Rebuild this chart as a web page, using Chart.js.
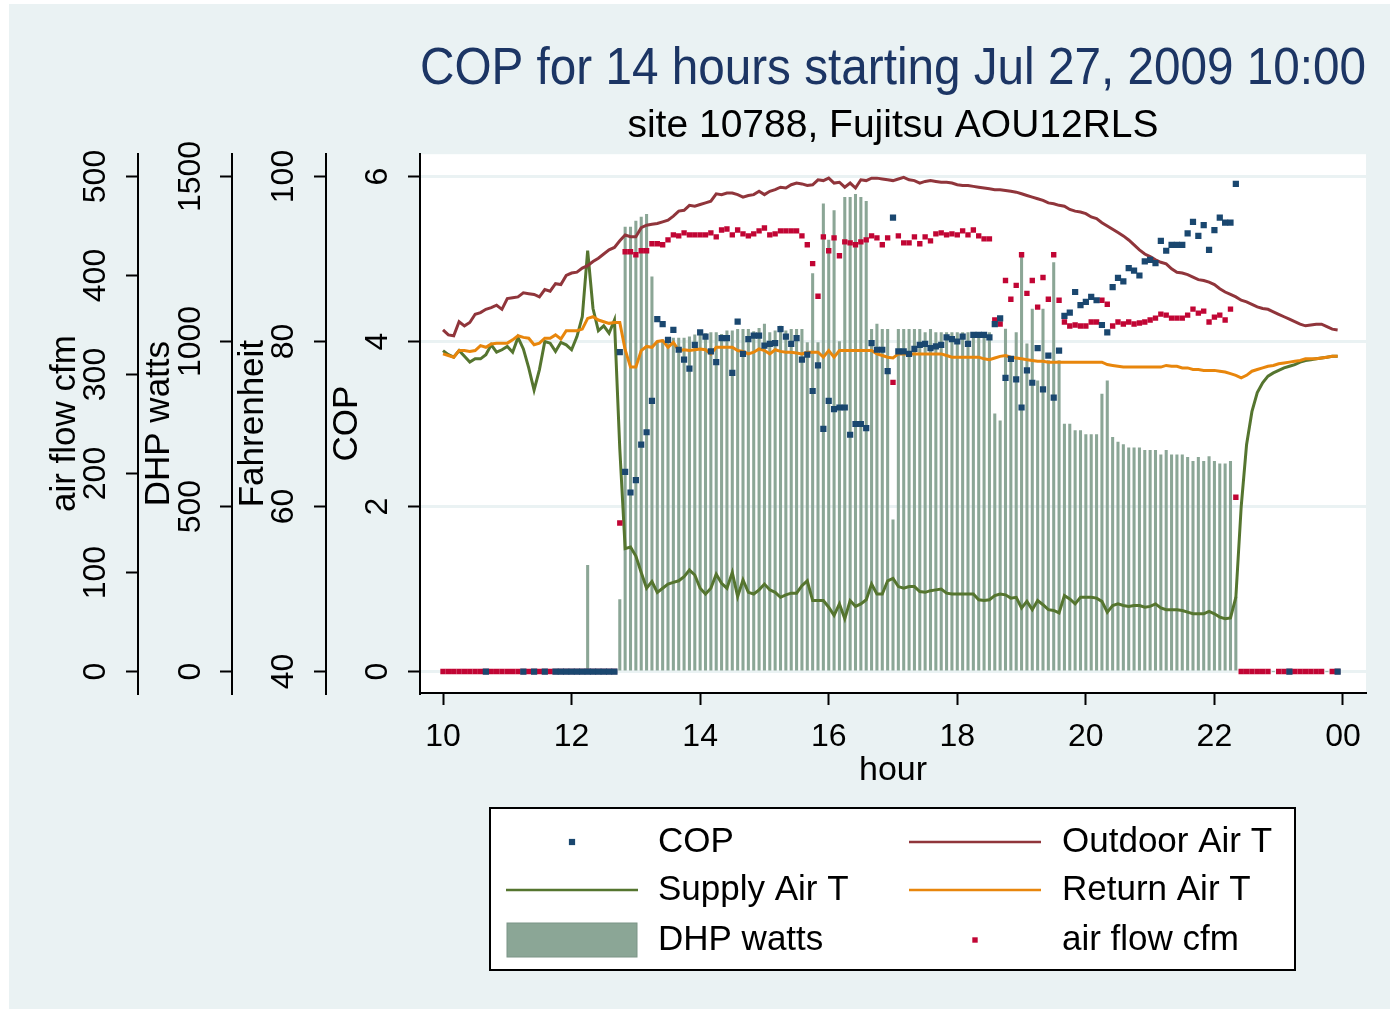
<!DOCTYPE html>
<html>
<head>
<meta charset="utf-8">
<title>COP for 14 hours</title>
<script src="https://cdn.jsdelivr.net/npm/chart.js@4.4.0/dist/chart.umd.min.js"></script>
<style>
  html, body { margin: 0; padding: 0; background: #ffffff; }
</style>
</head>
<body>
<canvas id="copChart" width="1395" height="1014"></canvas>
<script>
// 5-minute samples, 10:00 .. 23:55 (12 values per row = one hour)
const startHour = 10;
const stepMin = 5;

const dhpWatts = [
  0,0,0,0,0,0,0,0,0,0,0,0,
  0,0,0,0,0,0,0,0,0,0,0,0,
  0,0,0,322,0,0,0,0,0,218,1347,1347,
  1365,1377,1385,1196,1000,1005,1005,1010,1010,1010,1014,1020,
  1024,1024,1027,1027,1022,1032,1032,1037,1037,1037,1030,1040,
  1053,1027,1032,1047,1032,1037,1037,1037,997,1206,997,1417,
  1307,1397,1000,1437,1437,1446,1437,1425,1037,1053,1037,1037,
  460,1037,1037,1037,1037,1037,1027,1037,1027,1027,1027,1027,
  1027,1027,1027,1027,1027,1027,1027,781,760,1038,950,1027,
  1264,993,1098,881,1098,942,1239,942,750,750,730,730,
  718,718,718,841,881,710,695,688,678,678,678,670,
  670,670,657,670,657,657,657,649,637,649,637,651,
  637,629,629,637,226,0,0,0,0,0,0,0,
  0,0,0,0,0,0,0,0,0,0,0,0
];

const cop = [
  null,null,null,null,null,null,null,null,0,null,null,null,
  null,null,null,0,null,0,null,0,null,0,0,0,
  0,0,0,0,0,0,0,0,0,3.87,2.42,2.17,
  2.32,2.75,2.90,3.28,4.27,4.21,4.02,4.14,3.90,3.78,3.67,3.96,
  4.11,4.06,3.88,3.75,4.04,4.04,3.62,4.24,3.85,4.03,4.07,4.07,
  3.95,3.97,3.98,4.15,4.06,3.97,4.04,3.78,3.84,3.40,3.71,2.94,
  3.28,3.18,3.20,3.20,2.87,3.00,3.00,2.95,3.98,3.90,3.90,3.64,
  5.50,3.88,3.88,3.85,3.91,3.96,3.97,3.92,3.94,3.96,4.05,4.03,
  4.00,4.06,3.97,4.08,4.08,4.08,4.05,4.21,4.28,3.56,3.79,3.54,
  3.20,3.65,3.50,3.92,3.42,3.83,3.32,3.89,4.31,4.35,4.60,4.44,
  4.48,4.54,4.50,4.20,4.11,4.66,4.77,4.73,4.89,4.86,4.80,4.97,
  4.99,4.95,5.22,5.10,5.17,5.17,5.17,5.31,5.45,5.28,5.41,5.11,
  5.35,5.50,5.44,5.44,5.91,null,null,null,null,null,null,null,
  null,null,0,null,null,null,null,null,null,null,null,0
];

const airFlowCfm = [
  0,0,0,0,0,0,0,0,0,0,0,0,
  0,0,0,0,0,0,0,0,0,0,0,0,
  0,0,0,0,0,0,0,0,0,150,424,424,
  421,425,425,432,432,431,436,441,440,443,441,441,
  441,441,443,439,446,447,441,446,442,440,442,445,
  448,441,442,445,445,445,445,440,431,412,379,439,
  425,438,420,434,433,431,434,436,440,438,431,438,
  292,440,433,433,439,432,439,435,442,443,441,442,
  441,445,441,446,440,437,437,355,351,395,376,390,
  421,382,395,368,398,376,421,375,353,349,350,349,
  349,353,353,375,371,349,353,351,353,351,352,353,
  355,357,361,360,357,357,357,360,366,362,364,353,
  358,360,355,366,176,0,0,0,0,0,0,null,
  0,0,0,0,0,0,0,0,0,null,0,0
];

const outdoorF = [
  81.4,80.8,80.7,82.4,81.9,82.3,83.3,83.5,83.9,84.1,84.4,83.9,
  85.2,85.3,85.4,85.9,85.8,85.7,85.4,86.3,86.1,87.0,86.9,88.0,
  88.3,88.4,88.9,89.2,89.7,90.1,90.6,91.1,91.4,92.2,92.9,92.7,
  92.7,93.8,94.1,94.2,94.3,94.5,94.7,95.2,95.8,95.9,96.5,96.4,
  96.6,96.8,97.0,97.9,97.8,98.0,98.0,97.8,97.5,97.7,97.8,98.2,
  97.8,98.2,98.4,98.7,98.6,99.0,99.2,99.1,98.9,99.0,99.6,99.5,
  99.8,99.2,99.3,98.7,99.2,98.6,99.6,99.5,99.8,99.8,99.7,99.6,
  99.5,99.7,99.9,99.6,99.5,99.2,99.4,99.5,99.4,99.3,99.3,99.2,
  99.0,98.9,98.9,98.8,98.7,98.6,98.5,98.4,98.4,98.3,98.2,98.1,
  97.9,97.7,97.5,97.3,97.1,96.8,96.7,96.5,96.4,96.0,95.8,95.7,
  95.5,95.1,94.9,94.4,94.0,93.6,93.2,92.8,92.3,91.7,91.1,90.6,
  90.3,89.9,89.6,89.4,88.8,88.4,88.3,88.1,87.8,87.5,87.4,87.2,
  86.9,86.4,86.0,85.7,85.4,85.0,84.8,84.5,84.2,84.0,83.9,83.6,
  83.3,83.0,82.7,82.4,82.1,81.9,82.0,82.1,82.1,81.8,81.5,81.4
];

const supplyF = [
  78.9,78.4,78.1,78.9,78.2,77.5,77.9,77.9,78.4,79.6,78.7,79.0,
  79.4,78.7,80.5,79.1,76.8,74.1,76.6,80.0,79.8,78.8,79.9,79.6,
  79.0,80.6,83.0,91.0,84.0,81.3,81.9,81.0,82.6,67.0,54.9,55.1,
  54.0,52.0,50.1,50.9,49.6,50.1,50.6,50.8,51.0,51.5,52.3,51.7,
  50.1,49.4,50.1,51.8,50.7,50.1,52.0,49.1,51.1,49.6,49.4,49.9,
  50.6,49.9,49.6,49.0,49.3,49.5,49.5,50.4,51.0,48.6,48.6,48.6,
  47.8,46.8,48.2,46.4,48.6,47.9,48.2,48.7,50.6,49.4,49.4,51.0,
  51.3,50.3,50.1,50.3,50.3,49.7,49.6,49.8,49.9,50.0,49.5,49.4,
  49.4,49.4,49.4,49.4,48.7,48.6,48.7,49.2,49.4,49.3,48.9,49.0,
  47.7,48.5,47.5,48.6,48.1,47.5,47.4,47.1,49.2,48.8,48.2,49.0,
  49.0,49.0,48.9,48.5,47.2,48.0,48.2,48.0,47.9,48.0,48.0,47.8,
  47.9,48.2,47.7,47.5,47.5,47.5,47.4,47.2,47.0,47.0,47.0,47.3,
  47.0,46.6,46.4,46.5,49.0,60.0,67.5,71.5,73.8,75.0,75.8,76.2,
  76.5,76.8,77.0,77.2,77.5,77.7,77.8,77.9,78.0,78.1,78.2,78.2
];

const returnF = [
  78.5,78.3,78.1,78.9,78.9,78.8,78.9,79.5,79.3,79.7,79.8,79.8,
  79.8,80.2,80.7,80.5,80.4,79.6,79.8,80.4,80.4,80.8,80.3,81.3,
  81.3,81.3,81.5,82.8,83.0,82.6,82.4,82.2,82.3,82.3,79.0,76.9,
  76.9,78.9,79.4,79.3,80.0,80.1,79.3,79.9,78.9,79.0,78.9,79.0,
  79.1,79.0,78.5,79.3,79.3,79.3,79.3,78.9,78.8,78.5,78.7,79.1,
  78.9,78.5,79.0,78.8,78.7,78.7,78.6,78.5,78.7,78.7,78.7,78.1,
  78.9,78.1,78.9,78.9,78.9,78.9,78.9,78.9,78.9,78.5,78.3,78.1,
  78.0,78.5,78.5,78.5,78.5,78.5,78.5,78.5,78.5,78.5,78.3,78.1,
  78.1,78.1,78.1,78.1,78.1,77.9,77.8,78.0,78.2,78.3,78.1,78.0,
  77.9,77.8,77.7,77.6,77.6,77.5,77.5,77.5,77.5,77.5,77.5,77.5,
  77.5,77.5,77.5,77.5,77.2,77.1,77.0,76.9,76.9,76.9,76.9,76.9,
  76.9,76.9,76.9,77.1,77.0,77.0,76.8,76.8,76.6,76.6,76.5,76.5,
  76.5,76.4,76.3,76.1,75.9,75.6,75.9,76.4,76.6,76.8,77.0,77.1,
  77.3,77.4,77.5,77.6,77.7,77.9,77.9,77.9,78.0,78.1,78.2,78.2
];

const xTickValues = [10, 12, 14, 16, 18, 20, 22, 24];
const xTickLabels = ['10', '12', '14', '16', '18', '20', '22', '00'];
const copTicks = [0, 2, 4, 6];
const fahrenheitTicks = [40, 60, 80, 100];
const wattTicks = [0, 500, 1000, 1500];
const cfmTicks = [0, 100, 200, 300, 400, 500];

const hours = supplyF.map((_, i) => startHour + i * stepMin / 60);
const pts = arr => arr.map((v, i) => ({ x: hours[i], y: v }));

const FONT = '"Liberation Sans", Arial, sans-serif';
Chart.defaults.font.family = FONT;
Chart.defaults.color = '#000000';

const setTicks = list => scale => { scale.ticks = list.map(v => ({ value: v })); };

function leftAxis(weight, min, max, ticks, title, pad, grid) {
    return {
        type: 'linear',
        position: 'left',
        weight: weight,
        min: min,
        max: max,
        afterBuildTicks: setTicks(ticks),
        afterFit: (s) => { s.width = 94; s.paddingTop = 0; s.paddingBottom = 0; },
        ticks: {
            minRotation: 90,
            maxRotation: 90,
            crossAlign: 'center',
            padding: pad,
            color: '#000000',
            font: { size: 32 },
            callback: v => String(v)
        },
        grid: {
            drawOnChartArea: grid,
            color: '#eaf2f3',
            lineWidth: 3,
            drawTicks: true,
            tickLength: 12,
            tickColor: '#000000',
            tickWidth: 2
        },
        border: { display: true, color: '#000000', width: 2 },
        title: {
            display: true,
            text: title,
            color: '#000000',
            font: { size: 35 },
            padding: { top: 0, bottom: 0 }
        }
    };
}

const background = {
    id: 'background',
    beforeDraw(chart) {
        const { ctx, chartArea: a } = chart;
        ctx.save();
        ctx.fillStyle = '#ffffff';
        ctx.fillRect(0, 0, chart.width, chart.height);
        ctx.fillStyle = '#eaf2f3';
        ctx.fillRect(9, 4, chart.width - 14, chart.height - 9);
        ctx.fillStyle = '#ffffff';
        ctx.fillRect(a.left, a.top, a.right - a.left, a.bottom - a.top);
        ctx.restore();
    }
};

// legend box below the x axis, two columns like the original
const legendBox = {
    id: 'legendBox',
    afterDraw(chart) {
        const ctx = chart.ctx;
        const ds = chart.data.datasets;
        ctx.save();
        ctx.fillStyle = '#ffffff';
        ctx.fillRect(490, 808, 805, 162);
        ctx.strokeStyle = '#000000';
        ctx.lineWidth = 2;
        ctx.strokeRect(490, 808, 805, 162);

        const rows = [842, 890, 940];
        const cols = [{ sym: 572, text: 658 }, { sym: 975, text: 1062 }];
        ds.forEach((d, k) => {
            const c = cols[k % 2];
            const y = rows[Math.floor(k / 2)];
            if (d.type === 'bar') {
                ctx.fillStyle = d.backgroundColor;
                ctx.fillRect(c.sym - 65, y - 17, 130, 34);
                ctx.strokeStyle = '#7b9486';
                ctx.lineWidth = 1;
                ctx.strokeRect(c.sym - 65, y - 17, 130, 34);
            } else if (d.showLine === false) {
                const s = d.pointRadius * Math.SQRT1_2;
                ctx.fillStyle = d.backgroundColor;
                ctx.fillRect(c.sym - s, y - s, 2 * s, 2 * s);
            } else {
                ctx.strokeStyle = d.borderColor;
                ctx.lineWidth = 2.5;
                ctx.beginPath();
                ctx.moveTo(c.sym - 66, y);
                ctx.lineTo(c.sym + 66, y);
                ctx.stroke();
            }
            ctx.fillStyle = '#000000';
            ctx.font = '35px ' + FONT;
            ctx.textAlign = 'left';
            ctx.textBaseline = 'middle';
            ctx.fillText(d.label, c.text, y);
        });
        ctx.restore();
    }
};

const ctx = document.getElementById('copChart').getContext('2d');

const copChart = new Chart(ctx, {
    type: 'line',
    data: {
        datasets: [
            {
                label: 'COP',
                data: pts(cop),
                yAxisID: 'yCop',
                showLine: false,
                pointStyle: 'rect',
                pointRadius: 4.4,
                backgroundColor: '#1a476f',
                borderWidth: 0,
                order: 1
            },
            {
                label: 'Outdoor Air T',
                data: pts(outdoorF),
                yAxisID: 'yF',
                borderColor: '#90353b',
                borderWidth: 3,
                pointRadius: 0,
                order: 3
            },
            {
                label: 'Supply Air T',
                data: pts(supplyF),
                yAxisID: 'yF',
                borderColor: '#55752f',
                borderWidth: 3,
                pointRadius: 0,
                order: 4
            },
            {
                label: 'Return Air T',
                data: pts(returnF),
                yAxisID: 'yF',
                borderColor: '#e8860c',
                borderWidth: 3,
                pointRadius: 0,
                order: 3
            },
            {
                type: 'bar',
                label: 'DHP watts',
                data: pts(dhpWatts),
                yAxisID: 'yW',
                backgroundColor: '#8ba696',
                barThickness: 2.4,
                order: 6
            },
            {
                label: 'air flow cfm',
                data: pts(airFlowCfm),
                yAxisID: 'yCfm',
                showLine: false,
                pointStyle: 'rect',
                pointRadius: 3.8,
                backgroundColor: '#c10534',
                borderWidth: 0,
                order: 2
            }
        ]
    },
    options: {
        responsive: false,
        devicePixelRatio: 1,
        animation: false,
        events: [],
        layout: { padding: { left: 44, right: 29, top: 8, bottom: 221 } },
        scales: {
            x: {
                type: 'linear',
                position: 'bottom',
                min: 9.642,
                max: 24.358,
                offset: false,
                afterBuildTicks: setTicks(xTickValues),
                afterFit: (s) => { s.height = 100; s.paddingLeft = 0; s.paddingRight = 0; },
                ticks: {
                    autoSkip: false,
                    maxRotation: 0,
                    padding: 13,
                    color: '#000000',
                    font: { size: 32 },
                    callback: (v, i) => xTickLabels[i]
                },
                grid: {
                    offset: false,
                    drawOnChartArea: false,
                    drawTicks: true,
                    tickLength: 12,
                    tickColor: '#000000',
                    tickWidth: 2
                },
                border: { display: true, color: '#000000', width: 2 },
                title: {
                    display: true,
                    text: 'hour',
                    color: '#000000',
                    font: { size: 34 },
                    padding: { top: 0, bottom: 2 }
                }
            },
            yCop: leftAxis(1, -0.26, 6.27, copTicks, 'COP', 21, true),
            yF: leftAxis(2, 37.4, 102.7, fahrenheitTicks, 'Fahrenheit', 3.3, false),
            yW: leftAxis(3, -65, 1567.5, wattTicks, 'DHP watts', -6.6, false),
            yCfm: leftAxis(4, -21.67, 522.5, cfmTicks, 'air flow cfm', 3.3, false)
        },
        plugins: {
            legend: { display: false },
            tooltip: { enabled: false },
            title: {
                display: true,
                fullSize: false,
                text: 'COP for 14 hours starting Jul 27, 2009 10:00',
                color: '#1c3564',
                font: { size: 52, weight: 'normal' },
                padding: { top: 30, bottom: 0 }
            },
            subtitle: {
                display: true,
                fullSize: false,
                text: 'site 10788, Fujitsu AOU12RLS',
                color: '#000000',
                font: { size: 39, weight: 'normal' },
                padding: { top: 2, bottom: 5 }
            }
        }
    },
    plugins: [background, legendBox]
});
</script>
</body>
</html>
